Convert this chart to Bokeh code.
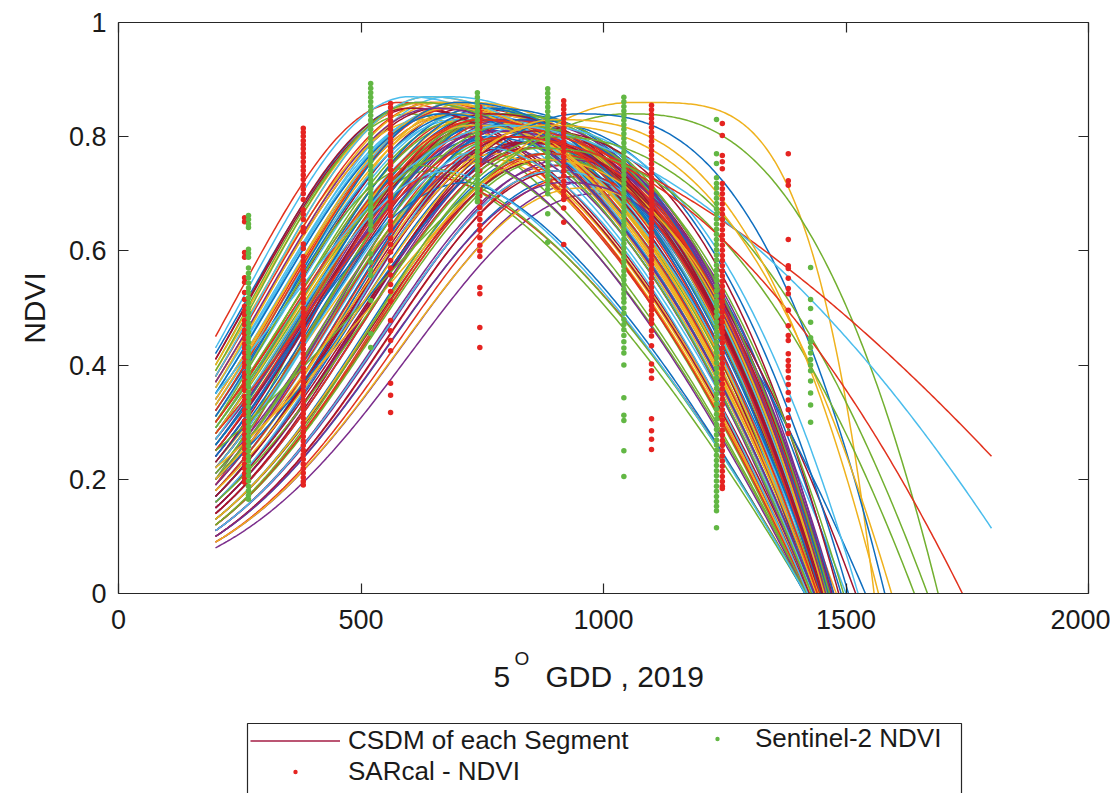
import numpy as np
from bokeh.plotting import figure
from bokeh.layouts import column
from bokeh.models import (ColumnDataSource, FixedTicker, LinearAxis, Legend, LegendItem,
                          Label, Range1d, CustomJSTickFormatter)
from bokeh.embed import file_html
from bokeh.resources import INLINE

FONT = "Liberation Sans"

# ---------------- axis ticks ----------------
x_tick_values = [0, 500, 1000, 1500, 2000]
x_tick_labels = ["0", "500", "1000", "1500", "2000"]
y_tick_values = [0, 0.2, 0.4, 0.6, 0.8, 1]
y_tick_labels = ["0", "0.2", "0.4", "0.6", "0.8", "1"]

# ---------------- CSDM curves (one per segment) ----------------
# NDVI at GDD 200, GDD of peak, peak NDVI, GDD where NDVI reaches 0, decline shape
curve_start = [0.42, 0.30, 0.18, 0.25, 0.12, 0.36, 0.22, 0.10, 0.33, 0.27, 0.15, 0.40, 0.20,
               0.31, 0.13, 0.24, 0.38, 0.09, 0.28, 0.19, 0.34, 0.16, 0.45, 0.23, 0.11, 0.29,
               0.21, 0.37, 0.14, 0.26, 0.32, 0.08, 0.20, 0.35, 0.17, 0.27, 0.12, 0.39, 0.25,
               0.30, 0.18, 0.41, 0.22, 0.10, 0.33, 0.15, 0.28, 0.36, 0.13, 0.24, 0.19, 0.31,
               0.16, 0.26, 0.34, 0.11, 0.23, 0.38, 0.20, 0.14, 0.29, 0.43, 0.17, 0.32, 0.09,
               0.27, 0.21, 0.12, 0.35, 0.25, 0.18, 0.30, 0.40, 0.15, 0.22, 0.33, 0.10, 0.28,
               0.19, 0.37, 0.24, 0.13, 0.31, 0.16, 0.26, 0.22, 0.34, 0.11, 0.20, 0.29, 0.17,
               0.24, 0.14, 0.36, 0.19, 0.29, 0.11, 0.41, 0.17, 0.32, 0.09, 0.27, 0.21, 0.38, 0.15,
               0.26, 0.12, 0.33, 0.20, 0.30, 0.16, 0.23, 0.35, 0.18, 0.28, 0.10, 0.39, 0.22, 0.14,
               0.31, 0.25, 0.13, 0.37, 0.20, 0.27, 0.17]
curve_peak_gdd = [620, 740, 820, 760, 880, 680, 790, 930, 700, 750, 850, 600, 800,
                  720, 870, 770, 640, 960, 730, 810, 690, 840, 580, 780, 900, 710,
                  790, 660, 860, 750, 700, 980, 640, 680, 830, 760, 890, 630, 770,
                  730, 820, 610, 780, 920, 700, 860, 740, 660, 880, 760, 650, 720,
                  840, 760, 690, 900, 800, 650, 780, 870, 740, 600, 830, 710, 940,
                  750, 800, 890, 680, 770, 820, 730, 630, 850, 790, 700, 910, 740,
                  810, 670, 770, 880, 720, 850, 760, 790, 690, 920, 800, 730, 830,
                  760, 860, 650, 800, 700, 900, 600, 830, 690, 950, 740, 780, 640, 850,
                  720, 880, 680, 790, 620, 840, 760, 670, 810, 730, 920, 620, 770, 860,
                  700, 750, 870, 650, 800, 680, 820]
curve_peak_ndvi = [0.86, 0.84, 0.80, 0.83, 0.76, 0.85, 0.82, 0.73, 0.86, 0.81, 0.78, 0.84, 0.79,
                   0.85, 0.77, 0.83, 0.87, 0.72, 0.80, 0.81, 0.84, 0.79, 0.86, 0.76, 0.75, 0.83,
                   0.84, 0.85, 0.78, 0.82, 0.86, 0.70, 0.74, 0.87, 0.80, 0.84, 0.77, 0.83, 0.81,
                   0.83, 0.82, 0.85, 0.80, 0.75, 0.84, 0.79, 0.85, 0.84, 0.76, 0.82, 0.73, 0.86,
                   0.81, 0.83, 0.85, 0.74, 0.84, 0.86, 0.77, 0.80, 0.82, 0.87, 0.80, 0.84, 0.73,
                   0.84, 0.78, 0.76, 0.85, 0.83, 0.82, 0.80, 0.86, 0.79, 0.84, 0.83, 0.74, 0.85,
                   0.82, 0.86, 0.81, 0.77, 0.84, 0.78, 0.85, 0.83, 0.84, 0.76, 0.80, 0.82, 0.79,
                   0.80, 0.78, 0.86, 0.83, 0.77, 0.74, 0.85, 0.83, 0.85, 0.71, 0.76, 0.84, 0.87, 0.79,
                   0.72, 0.77, 0.85, 0.81, 0.75, 0.82, 0.84, 0.84, 0.80, 0.82, 0.72, 0.86, 0.78, 0.81,
                   0.86, 0.83, 0.76, 0.85, 0.82, 0.74, 0.80]
curve_zero_gdd = [1430, 1445, 1460, 1440, 1450, 1425, 1470, 1455, 1435, 1480, 1440, 1420, 1500,
                  1450, 1435, 1465, 1440, 1470, 1418, 1445, 1455, 1490, 1428, 1420, 1460, 1442,
                  1455, 1432, 1448, 1462, 1438, 1475, 1416, 1446, 1520, 1452, 1443, 1425, 1468,
                  1437, 1458, 1429, 1474, 1452, 1444, 1463, 1450, 1436, 1448, 1540, 1418, 1456,
                  1444, 1466, 1441, 1458, 1449, 1434, 1422, 1465, 1457, 1438, 1447, 1453, 1462,
                  1451, 1426, 1456, 1443, 1471, 1459, 1421, 1433, 1446, 1461, 1448, 1454, 1439,
                  1467, 1437, 1452, 1441, 1459, 1430, 1464, 1447, 1442, 1469, 1457, 1450, 1445,
                  1436, 1448, 1427, 1458, 1419, 1452, 1424, 1505, 1440, 1449, 1417, 1466, 1431, 1444,
                  1415, 1457, 1438, 1451, 1418, 1525, 1453, 1434, 1447, 1443, 1456, 1429, 1421, 1485,
                  1449, 1441, 1455, 1435, 1495, 1416, 1450]
curve_shape = [2.0, 2.3, 2.4, 2.1, 2.2, 1.9, 2.5, 2.3, 2.0, 2.1, 2.3, 1.7, 2.0,
               2.2, 2.1, 2.4, 2.0, 2.3, 1.6, 2.2, 2.1, 2.3, 1.8, 1.6, 2.4, 2.1,
               2.3, 2.0, 2.2, 2.3, 2.0, 2.1, 1.5, 2.1, 2.0, 2.2, 2.2, 1.9, 2.4,
               2.1, 2.3, 1.9, 2.4, 2.2, 2.0, 2.3, 2.2, 2.0, 2.3, 1.9, 1.6, 2.2,
               2.2, 2.3, 2.0, 2.3, 2.4, 2.0, 1.6, 2.3, 2.2, 1.9, 2.2, 2.1, 2.2,
               2.2, 1.7, 2.2, 2.0, 2.4, 2.3, 1.6, 2.0, 2.2, 2.3, 2.0, 2.1, 2.1,
               2.3, 2.0, 2.3, 2.1, 2.2, 1.9, 2.4, 2.2, 2.0, 2.2, 2.3, 2.1, 2.2,
               2.0, 2.3, 2.1, 2.4, 1.6, 2.2, 1.9, 2.4, 2.0, 2.3, 1.5, 2.5, 2.0, 2.2,
               1.5, 2.3, 2.1, 2.2, 1.6, 2.4, 2.3, 2.0, 2.2, 2.1, 2.3, 2.0, 1.7, 2.4,
               2.2, 2.1, 2.3, 2.0, 2.4, 1.5, 2.2]

# segments with late peaks or long tails
late_start = [0.22, 0.25, 0.20, 0.30, 0.35, 0.16, 0.20, 0.12, 0.28, 0.18]
late_peak_gdd = [1060, 1050, 950, 750, 800, 900, 880, 870, 800, 900]
late_peak_ndvi = [0.860, 0.840, 0.840, 0.830, 0.820, 0.800, 0.820, 0.780, 0.800, 0.830]
late_zero_gdd = [1558, 1690, 1580, 2050, 1887, 1668, 1594, 1641, 1740, 1567]
late_shape = [4.0, 2.6, 2.6, 1.6, 1.8, 2.2, 2.5, 2.2, 2.0, 2.7]
late_colors = ["#efb21e", "#72b030", "#0f6ebf", "#e2321e", "#4bbdec",
               "#72b030", "#efb21e", "#72b030", "#e2321e", "#efb21e"]

curve_colors = ["#0f6ebf", "#e2321e", "#efb21e", "#7b2d8c", "#72b030", "#4bbdec", "#a3142f"]

# ---------------- SARcal NDVI observations (red) ----------------
sar_gdd = [260, 381, 561, 745, 918, 1099, 1245, 1381]
sar_260 = [0.658, 0.651, 0.597, 0.589, 0.553, 0.545, 0.527, 0.515, 0.503, 0.495, 0.488, 0.478,
           0.471, 0.461, 0.455, 0.446, 0.437, 0.430, 0.421, 0.413, 0.404, 0.397, 0.386, 0.379,
           0.371, 0.362, 0.356, 0.345, 0.338, 0.330, 0.321, 0.313, 0.302, 0.296, 0.287, 0.278,
           0.270, 0.261, 0.253, 0.244, 0.236, 0.227, 0.219, 0.210, 0.202, 0.195]
sar_381 = [0.815, 0.808, 0.801, 0.793, 0.786, 0.779, 0.771, 0.764, 0.756, 0.748, 0.741, 0.733,
           0.725, 0.716, 0.708, 0.700, 0.690, 0.672, 0.664, 0.655, 0.641, 0.633, 0.612, 0.604,
           0.590, 0.582, 0.573, 0.565, 0.557, 0.549, 0.541, 0.533, 0.525, 0.517, 0.509, 0.500,
           0.492, 0.484, 0.476, 0.468, 0.460, 0.452, 0.444, 0.436, 0.428, 0.420, 0.412, 0.404,
           0.395, 0.387, 0.379, 0.371, 0.363, 0.355, 0.347, 0.339, 0.331, 0.323, 0.315, 0.307,
           0.299, 0.291, 0.283, 0.275, 0.267, 0.259, 0.251, 0.243, 0.235, 0.227, 0.219, 0.211,
           0.203, 0.196, 0.190]
sar_561 = [0.858, 0.851, 0.843, 0.836, 0.828, 0.820, 0.813, 0.805, 0.797, 0.790, 0.781, 0.774,
           0.766, 0.757, 0.750, 0.742, 0.733, 0.726, 0.718, 0.709, 0.701, 0.694, 0.686, 0.677,
           0.669, 0.661, 0.652, 0.644, 0.636, 0.622, 0.611, 0.598, 0.583, 0.570, 0.558, 0.541,
           0.529, 0.512, 0.478, 0.460, 0.443, 0.425, 0.368, 0.347, 0.317]
sar_745 = [0.852, 0.843, 0.834, 0.826, 0.817, 0.806, 0.797, 0.788, 0.779, 0.770, 0.760, 0.751,
           0.740, 0.706, 0.696, 0.686, 0.676, 0.665, 0.655, 0.645, 0.636, 0.623, 0.610, 0.600,
           0.590, 0.536, 0.525, 0.466, 0.431]
sar_918 = [0.863, 0.855, 0.848, 0.840, 0.832, 0.824, 0.815, 0.807, 0.799, 0.791, 0.782, 0.774,
           0.765, 0.757, 0.748, 0.740, 0.731, 0.722, 0.714, 0.705, 0.697, 0.690, 0.675, 0.650,
           0.611]
sar_1099 = [0.855, 0.847, 0.839, 0.832, 0.824, 0.816, 0.808, 0.800, 0.792, 0.784, 0.776, 0.768,
            0.760, 0.752, 0.744, 0.736, 0.728, 0.720, 0.712, 0.704, 0.696, 0.688, 0.680, 0.672,
            0.664, 0.656, 0.648, 0.640, 0.632, 0.624, 0.616, 0.608, 0.600, 0.592, 0.584, 0.576,
            0.568, 0.560, 0.552, 0.544, 0.536, 0.528, 0.520, 0.512, 0.504, 0.496, 0.488, 0.480,
            0.473, 0.460, 0.451, 0.434, 0.402, 0.390, 0.377, 0.306, 0.285, 0.270, 0.252]
sar_1245 = [0.823, 0.802, 0.767, 0.756, 0.744, 0.718, 0.709, 0.700, 0.691, 0.682, 0.673, 0.664,
            0.655, 0.646, 0.637, 0.628, 0.619, 0.610, 0.601, 0.592, 0.583, 0.574, 0.565, 0.556,
            0.547, 0.538, 0.529, 0.520, 0.511, 0.502, 0.493, 0.484, 0.475, 0.466, 0.457, 0.448,
            0.439, 0.430, 0.421, 0.412, 0.403, 0.394, 0.385, 0.376, 0.367, 0.358, 0.349, 0.340,
            0.331, 0.322, 0.313, 0.304, 0.295, 0.286, 0.277, 0.268, 0.259, 0.250, 0.241, 0.232,
            0.223, 0.214, 0.205, 0.196, 0.188, 0.184]
sar_1381 = [0.770, 0.723, 0.715, 0.620, 0.574, 0.569, 0.552, 0.534, 0.525, 0.496, 0.469, 0.452,
            0.443, 0.420, 0.408, 0.399, 0.390, 0.378, 0.366, 0.352, 0.339, 0.322, 0.308, 0.294,
            0.280]
sar_values = [sar_260, sar_381, sar_561, sar_745, sar_918, sar_1099, sar_1245, sar_1381]

# ---------------- Sentinel-2 NDVI observations (green) ----------------
s2_gdd = [268, 520, 740, 885, 1042, 1233, 1427]
s2_268 = [0.662, 0.655, 0.647, 0.641, 0.603, 0.596, 0.589, 0.570, 0.561, 0.553, 0.544, 0.535,
          0.527, 0.518, 0.509, 0.500, 0.492, 0.483, 0.474, 0.466, 0.457, 0.448, 0.440, 0.431,
          0.422, 0.414, 0.405, 0.396, 0.388, 0.379, 0.370, 0.362, 0.353, 0.344, 0.336, 0.327,
          0.318, 0.310, 0.301, 0.292, 0.284, 0.275, 0.266, 0.258, 0.249, 0.240, 0.232, 0.223,
          0.214, 0.206, 0.197, 0.188, 0.180, 0.172, 0.165]
s2_520 = [0.893, 0.885, 0.877, 0.869, 0.861, 0.853, 0.845, 0.837, 0.829, 0.821, 0.813, 0.805,
          0.797, 0.789, 0.781, 0.773, 0.765, 0.757, 0.749, 0.741, 0.733, 0.725, 0.717, 0.709,
          0.701, 0.693, 0.685, 0.677, 0.669, 0.661, 0.653, 0.645, 0.636, 0.595, 0.580, 0.566,
          0.557, 0.513, 0.455, 0.431]
s2_740 = [0.877, 0.869, 0.861, 0.853, 0.845, 0.837, 0.829, 0.821, 0.813, 0.805, 0.797, 0.789,
          0.781, 0.773, 0.765, 0.757, 0.749, 0.741, 0.733, 0.725, 0.717, 0.709, 0.701, 0.693,
          0.686]
s2_885 = [0.884, 0.876, 0.868, 0.860, 0.852, 0.844, 0.836, 0.828, 0.820, 0.812, 0.804, 0.796,
          0.788, 0.780, 0.772, 0.764, 0.756, 0.748, 0.740, 0.732, 0.724, 0.716, 0.708, 0.700,
          0.665, 0.615]
s2_1042 = [0.869, 0.861, 0.853, 0.845, 0.837, 0.829, 0.821, 0.813, 0.805, 0.797, 0.789, 0.781,
           0.773, 0.765, 0.757, 0.749, 0.741, 0.733, 0.725, 0.717, 0.709, 0.701, 0.693, 0.685,
           0.677, 0.669, 0.661, 0.653, 0.645, 0.637, 0.629, 0.621, 0.613, 0.605, 0.597, 0.589,
           0.581, 0.573, 0.565, 0.557, 0.549, 0.541, 0.533, 0.525, 0.517, 0.510, 0.500, 0.491,
           0.480, 0.471, 0.462, 0.452, 0.441, 0.430, 0.421, 0.400, 0.343, 0.312, 0.303, 0.250,
           0.205]
s2_1233 = [0.830, 0.770, 0.753, 0.728, 0.718, 0.710, 0.701, 0.692, 0.683, 0.674, 0.665, 0.656,
           0.647, 0.638, 0.629, 0.620, 0.611, 0.602, 0.593, 0.584, 0.575, 0.566, 0.557, 0.548,
           0.539, 0.530, 0.521, 0.512, 0.503, 0.494, 0.485, 0.476, 0.467, 0.458, 0.449, 0.440,
           0.431, 0.422, 0.413, 0.404, 0.395, 0.386, 0.377, 0.368, 0.359, 0.350, 0.341, 0.332,
           0.323, 0.314, 0.305, 0.296, 0.287, 0.278, 0.269, 0.260, 0.251, 0.242, 0.233, 0.224,
           0.215, 0.206, 0.197, 0.188, 0.179, 0.170, 0.161, 0.153, 0.145, 0.115]
s2_1427 = [0.571, 0.515, 0.499, 0.475, 0.448, 0.440, 0.431, 0.421, 0.410, 0.400, 0.390, 0.372,
           0.351, 0.330, 0.300]
s2_values = [s2_268, s2_520, s2_740, s2_885, s2_1042, s2_1233, s2_1427]


# ---------------- build curve geometry ----------------
def csdm(y0, xp, yp, xz, pr, gdd):
    s = (xp - 200.0) / np.sqrt(2.0 * np.log(yp / y0))
    left = yp * np.exp(-0.5 * ((gdd - xp) / s) ** 2)
    u = np.clip((gdd - xp) / (xz - xp), 0, None)
    right = yp * (1.0 - u ** pr)
    y = np.where(gdd <= xp, left, right)
    below = np.where(y < -0.01)[0]
    end = below[0] + 1 if len(below) else len(y)
    return gdd[:end].tolist(), y[:end].tolist()


gdd_axis = np.arange(200.0, 1800.1, 4.0)
xs, ys, cols = [], [], []
for i in range(len(curve_start)):
    cx, cy = csdm(curve_start[i], curve_peak_gdd[i], curve_peak_ndvi[i],
                  curve_zero_gdd[i], curve_shape[i], gdd_axis)
    xs.append(cx); ys.append(cy); cols.append(curve_colors[i % len(curve_colors)])
for i in range(len(late_start)):
    cx, cy = csdm(late_start[i], late_peak_gdd[i], late_peak_ndvi[i],
                  late_zero_gdd[i], late_shape[i], gdd_axis)
    xs.append(cx); ys.append(cy); cols.append(late_colors[i])

curve_src = ColumnDataSource(dict(xs=xs, ys=ys, color=cols))

sar_x, sar_y = [], []
for g, vals in zip(sar_gdd, sar_values):
    sar_x += [g] * len(vals); sar_y += vals
s2_x, s2_y = [], []
for g, vals in zip(s2_gdd, s2_values):
    s2_x += [g] * len(vals); s2_y += vals

AX = "#262626"
TXT = "#1a1a1a"
SAR_COLOR = "#e52421"
S2_COLOR = "#62b744"
LEGEND_LINE = "#a51d45"

# ---------------- main figure ----------------
p = figure(width=1110, height=643, output_backend="svg", toolbar_location=None,
           x_range=Range1d(0, 2000), y_range=Range1d(0, 1),
           min_border_left=118, min_border_right=22, min_border_top=22, min_border_bottom=50)
p.outline_line_color = None
p.grid.visible = False
p.background_fill_color = "white"

p.multi_line(xs="xs", ys="ys", line_color="color", line_width=1.5, source=curve_src)
p.scatter(sar_x, sar_y, size=5.5, fill_color=SAR_COLOR, line_color=None)
p.scatter(s2_x, s2_y, size=5.5, fill_color=S2_COLOR, line_color=None)

bottom_axis = p.below[0]
left_axis = p.left[0]
bottom_axis.ticker = FixedTicker(ticks=x_tick_values)
bottom_axis.major_label_overrides = dict(zip(x_tick_values, x_tick_labels))
left_axis.ticker = FixedTicker(ticks=y_tick_values)
left_axis.major_label_overrides = dict(zip(y_tick_values, y_tick_labels))

top_axis = LinearAxis(ticker=FixedTicker(ticks=x_tick_values),
                      formatter=CustomJSTickFormatter(code="return ''"))
right_axis = LinearAxis(ticker=FixedTicker(ticks=y_tick_values),
                        formatter=CustomJSTickFormatter(code="return ''"))
p.add_layout(top_axis, "above")
p.add_layout(right_axis, "right")

for ax in [bottom_axis, left_axis, top_axis, right_axis]:
    ax.major_tick_in = 10
    ax.major_tick_out = 0
    ax.minor_tick_line_color = None
    ax.axis_line_color = AX
    ax.axis_line_width = 1.2
    ax.major_tick_line_color = AX
    ax.major_tick_line_width = 1.2
    ax.major_label_text_font = FONT
    ax.major_label_text_font_size = "27px"
    ax.major_label_text_color = TXT
top_axis.major_label_standoff = 0
right_axis.major_label_standoff = 0

bottom_axis.major_label_standoff = 16
left_axis.major_label_standoff = 12
left_axis.axis_label = "NDVI"
left_axis.axis_label_text_font = FONT
left_axis.axis_label_text_font_size = "30px"
left_axis.axis_label_text_font_style = "normal"
left_axis.axis_label_text_color = TXT
left_axis.axis_label_standoff = 15

# ---------------- lower panel: x title and legend (coordinates = pixels) ----------------
q = figure(width=1110, height=150, output_backend="svg", toolbar_location=None,
           x_range=Range1d(118, 1088), y_range=Range1d(0, 150),
           x_axis_type=None, y_axis_type=None,
           min_border_left=118, min_border_right=22, min_border_top=0, min_border_bottom=0)
q.outline_line_color = None
q.grid.visible = False

for txt, gx, gy, fs in [("5", 493, 117, "30px"), ("O", 514, 135, "19px"),
                        ("GDD , 2019", 545, 117, "30px")]:
    q.add_layout(Label(x=gx, y=gy, text=txt, text_font=FONT, text_font_size=fs,
                       text_color=TXT, text_baseline="alphabetic", text_align="left"))

# legend frame (its lower edge lies below the page edge, as in the reference)
q.quad(left=247, right=961, bottom=-30, top=70, fill_color="white",
       line_color=AX, line_width=1.2)

leg_line = q.line([-500, -400], [-500, -500], line_color=LEGEND_LINE, line_width=1.5)
leg_sar = q.scatter([-500], [-500], size=4, fill_color=SAR_COLOR, line_color=None)
leg_s2 = q.scatter([-500], [-500], size=4, fill_color=S2_COLOR, line_color=None)

leg1 = Legend(items=[LegendItem(label="CSDM of each Segment", renderers=[leg_line]),
                     LegendItem(label="SARcal - NDVI", renderers=[leg_sar])],
              location=(132, 6), orientation="vertical",
              glyph_width=90, glyph_height=11, label_height=29,
              label_standoff=8, padding=4, spacing=0, margin=0,
              label_text_font=FONT, label_text_font_size="26px", label_text_color=TXT,
              border_line_color=None, background_fill_alpha=0.0)
leg2 = Legend(items=[LegendItem(label="Sentinel-2 NDVI", renderers=[leg_s2])],
              location=(569, 39), orientation="vertical",
              glyph_width=60, glyph_height=11, label_height=29,
              label_standoff=8, padding=4, spacing=0, margin=0,
              label_text_font=FONT, label_text_font_size="26px", label_text_color=TXT,
              border_line_color=None, background_fill_alpha=0.0)
q.add_layout(leg1, "center")
q.add_layout(leg2, "center")

layout = column(p, q, spacing=0)
open("out.html", "w").write(file_html(layout, INLINE))
